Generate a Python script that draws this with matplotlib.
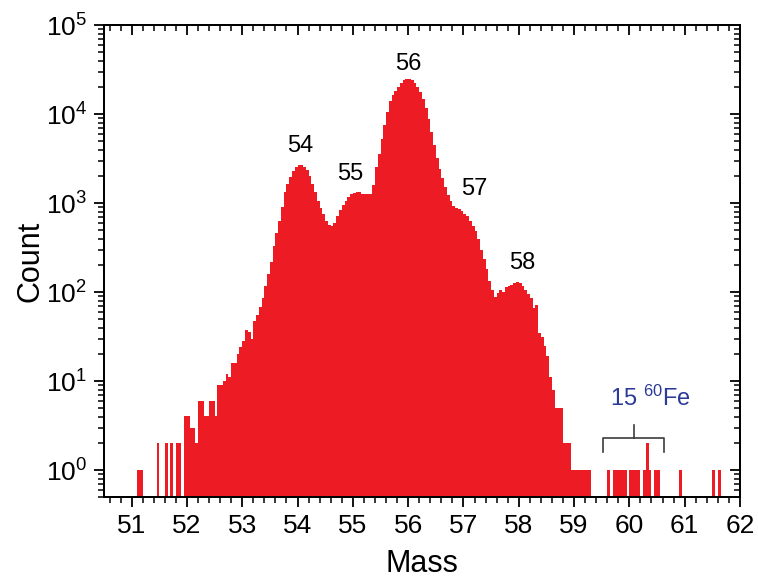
import numpy as np
import matplotlib
matplotlib.use("Agg")
import matplotlib.pyplot as plt
from matplotlib.ticker import MultipleLocator, LogLocator, NullFormatter

plt.rcParams['font.family'] = ['Liberation Sans', 'DejaVu Sans']
plt.rcParams['mathtext.fontset'] = 'custom'
plt.rcParams['mathtext.rm'] = 'Liberation Sans'
plt.rcParams['mathtext.it'] = 'Liberation Sans:italic'
plt.rcParams['mathtext.bf'] = 'Liberation Sans:bold'
plt.rcParams['mathtext.default'] = 'regular'

# ---- data (bin width 0.05 mass units, values = bin left edges) ----
bin_width = 0.05

left_tail_mass = [51.10, 51.15, 51.45, 51.60, 51.70, 51.80, 51.85]
left_tail_counts = [1, 1, 2, 2, 2, 2, 2]

body_start = 51.95
body_counts = [
    4, 4, 3, 3, 2, 6, 6, 4, 4, 6, 6, 4, 9, 9,
    10, 12, 11, 16, 16, 20, 24, 28, 38, 36, 30,
    47, 55, 68, 85, 117, 158, 219, 331, 457, 630,
    912, 1318, 1660, 1950, 2290, 2570, 2700, 2700, 2570, 2340,
    2000, 1620, 1320, 1070, 890, 760, 630, 575, 560, 600,
    710, 830, 955, 1070, 1175, 1260, 1290, 1320, 1320, 1260,
    1260, 1260, 1260, 1600,
    2570, 3600, 5200, 7600, 10700, 14100, 16200, 18200, 20400, 22400,
    24000, 24500, 24500, 24000, 22400, 20400, 17800, 14800, 11700, 8900,
    6300, 4500, 3200, 2400, 1900, 1500, 1230, 1050, 930, 890,
    850, 810, 760, 710, 630, 560, 490, 400, 300, 235,
    180, 135, 105, 89, 98, 107, 100, 115, 117, 120,
    126, 129, 126, 117, 105, 95, 85, 66, 72,
    35, 31, 25, 19, 11, 8, 5, 5, 5, 2, 2, 2, 1, 1, 1, 1, 1, 1, 1,
]

fe_mass = [59.60, 59.70, 59.75, 59.80, 59.85, 59.90, 60.00, 60.05,
           60.10, 60.15, 60.25, 60.30, 60.35, 60.45, 60.50]
fe_counts = [1, 1, 1, 1, 1, 1, 1, 1, 1, 1, 1, 2, 1, 1, 1]

right_tail_mass = [60.90, 61.50, 61.60]
right_tail_counts = [1, 1, 1]

peak_labels = ['54', '55', '56', '57', '58']
peak_label_mass = [54.05, 54.95, 56.0, 57.2, 58.07]
peak_label_count = [4400, 2150, 37000, 1450, 215]

xtick_values = list(range(51, 63))

# ---- assemble ----
body_mass = body_start + bin_width * np.arange(len(body_counts))
mass = np.concatenate([left_tail_mass, body_mass, fe_mass, right_tail_mass])
counts = np.concatenate([left_tail_counts, body_counts, fe_counts, right_tail_counts])

fig = plt.figure(figsize=(7.58, 5.84), dpi=100)
ax = fig.add_axes([0.1372, 0.149, 0.839, 0.808])

red = '#ed1c24'
ax.bar(mass, counts, width=bin_width, align='edge', color=red,
       edgecolor='none', linewidth=0, bottom=0.01)

ax.set_yscale('log')
ax.set_xlim(50.5, 62)
ax.set_ylim(0.5, 1e5)

ax.xaxis.set_major_locator(MultipleLocator(1))
ax.xaxis.set_minor_locator(MultipleLocator(0.2))
ax.set_xticks(xtick_values)
ax.yaxis.set_major_locator(LogLocator(base=10, numticks=10))
ax.yaxis.set_minor_locator(LogLocator(base=10, subs=np.arange(2, 10), numticks=20))
ax.yaxis.set_minor_formatter(NullFormatter())

for sp in ax.spines.values():
    sp.set_linewidth(1.3)

ax.tick_params(axis='both', which='major', direction='out', length=7, width=1.3,
               labelsize=19, pad=5)
ax.tick_params(axis='both', which='minor', direction='out', length=4, width=1.1)

# mirrored inward ticks on top / right
axt = ax.twiny()
axt.set_xlim(ax.get_xlim())
axt.xaxis.set_major_locator(MultipleLocator(1))
axt.xaxis.set_minor_locator(MultipleLocator(0.2))
axt.tick_params(axis='x', which='major', direction='in', length=7, width=1.3,
                labeltop=False, top=True)
axt.tick_params(axis='x', which='minor', direction='in', length=4, width=1.1)

axr = ax.twinx()
axr.set_yscale('log')
axr.set_ylim(ax.get_ylim())
axr.yaxis.set_major_locator(LogLocator(base=10, numticks=10))
axr.yaxis.set_minor_locator(LogLocator(base=10, subs=np.arange(2, 10), numticks=20))
axr.tick_params(axis='y', which='major', direction='in', length=7, width=1.3,
                labelright=False, right=True)
axr.tick_params(axis='y', which='minor', direction='in', length=4, width=1.1,
                labelright=False)
for a in (axt, axr):
    for sp in a.spines.values():
        sp.set_linewidth(1.3)

ax.set_xlabel('Mass', fontsize=22, labelpad=8)
ax.set_ylabel('Count', fontsize=22, labelpad=0)

for lab, m, c in zip(peak_labels, peak_label_mass, peak_label_count):
    ax.text(m, c, lab, fontsize=17, ha='center', va='center', color='black')

# 60Fe bracket and label
br = '#3c3c3c'
ax.plot([59.52, 59.52, 60.62, 60.62], [1.62, 2.29, 2.29, 1.62], color=br, lw=1.2)
ax.plot([60.08, 60.08], [2.29, 3.2], color=br, lw=1.2)
ax.text(60.38, 6.5, r'15 $^{60}$Fe', fontsize=17, color='#2b3a96',
        ha='center', va='center')

fig.savefig('out.png', dpi=100)
